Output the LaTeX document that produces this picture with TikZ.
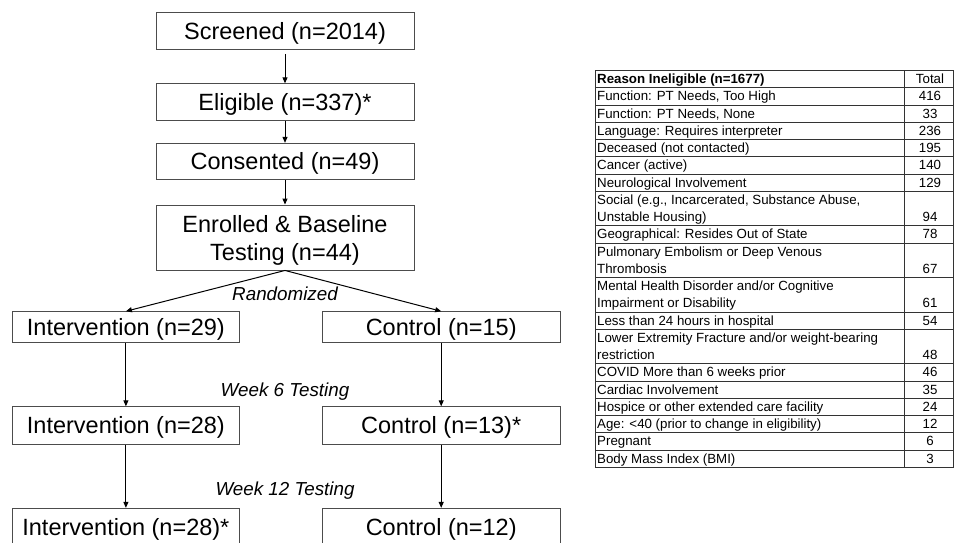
\documentclass[tikz,border=0pt]{standalone}
\usepackage{fontspec}
\setmainfont{Liberation Sans}
\usetikzlibrary{arrows.meta}
\newcommand\boxfont{\fontsize{23.5}{28}\selectfont}
\newcommand\notefont{\fontsize{18.8}{22}\selectfont\itshape}
\newcommand\tabfont{\fontsize{13.3}{15}\selectfont}
\tikzset{
	midbox/.style={draw=black!70, line width=0.9pt, minimum width=258pt, inner sep=0pt, text depth=0pt, font=\boxfont, align=center},
	leftbox/.style={midbox, minimum width=226.3pt},
	rightbox/.style={midbox, minimum width=237.7pt},
	note/.style={font=\notefont, inner sep=0pt},
	arr/.style={-{Triangle[length=6pt, width=5pt]}, line width=1pt, black},
	tabline/.style={draw=black!80, line width=0.8pt},
	tabtxt/.style={anchor=base west, inner sep=0pt, yshift=-4.5pt, font=\tabfont},
	tabnum/.style={anchor=base, inner sep=0pt, yshift=-4.5pt, font=\tabfont}
}

\begin{document}
\begin{tikzpicture}[x=1pt, y=-1pt]
	%%%%% START %%%%%
	\useasboundingbox (0,0) rectangle (954,542);
	\clip (0,0) rectangle (954,542);
	
	\node[midbox, minimum height=37pt] (scr) at (285,30.8) {Screened (n=2014)};
	\node[midbox, minimum height=36.3pt] (elig) at (285,101.9) {Eligible (n=337)*};
	\node[midbox, minimum height=36pt] (cons) at (285,161.3) {Consented (n=49)};
	\node[midbox, minimum height=65pt] (enr) at (285,237.5) {Enrolled \& Baseline\\Testing (n=44)};
	
	\node[leftbox, minimum height=31pt] (int1) at (125.9,327.2) {Intervention (n=29)};
	\node[rightbox, minimum height=31pt] (ctl1) at (441.2,327.2) {Control (n=15)};
	\node[leftbox, minimum height=37.3pt] (int2) at (125.9,425.4) {Intervention (n=28)};
	\node[rightbox, minimum height=37.3pt] (ctl2) at (441.2,425.4) {Control (n=13)*};
	\node[leftbox, minimum height=37pt] (int3) at (125.9,526.8) {Intervention (n=28)*};
	\node[rightbox, minimum height=37pt] (ctl3) at (441.2,526.8) {Control (n=12)};
	
	\node[note] (rnd) at (285,294) {Randomized};
	\node[note] (wk6) at (285,391.7) {Week 6 Testing};
	\node[note] (wk12) at (285,491) {Week 12 Testing};
	
	\draw[arr, shorten <=4pt] (scr) -- (elig);
	\draw[arr] (elig) -- (cons);
	\draw[arr] (cons) -- (enr);
	\draw[arr] (enr.south) -- (int1.north);
	\draw[arr] (enr.south) -- (ctl1.north);
	\draw[arr] (int1) -- (int2);
	\draw[arr] (int2) -- (int3);
	\draw[arr] (ctl1) -- (ctl2);
	\draw[arr] (ctl2) -- (ctl3);
	
	% table of reasons, one unit per text line
	\begin{scope}[shift={(0,70.5)}, y=-17.25pt]
		\draw[tabline] (595,0) rectangle (953,23);
		\draw[tabline] (904,0) -- (904,23);
		\draw[tabline] (595,1) -- (953,1) (595,2) -- (953,2) (595,3) -- (953,3) (595,4) -- (953,4);
		\draw[tabline] (595,5) -- (953,5) (595,6) -- (953,6) (595,7) -- (953,7) (595,9) -- (953,9);
		\draw[tabline] (595,10) -- (953,10) (595,12) -- (953,12) (595,14) -- (953,14) (595,15) -- (953,15);
		\draw[tabline] (595,17) -- (953,17) (595,18) -- (953,18) (595,19) -- (953,19) (595,20) -- (953,20);
		\draw[tabline] (595,21) -- (953,21) (595,22) -- (953,22);
		
		\node[tabtxt] (t0) at (597,0.5) {\bfseries Reason Ineligible (n=1677)};
		\node[tabnum] (v0) at (930,0.5) {Total};
		\node[tabtxt] (t1) at (597,1.5) {Function: PT Needs, Too High};
		\node[tabnum] (v1) at (930,1.5) {416};
		\node[tabtxt] (t2) at (597,2.5) {Function: PT Needs, None};
		\node[tabnum] (v2) at (930,2.5) {33};
		\node[tabtxt] (t3) at (597,3.5) {Language: Requires interpreter};
		\node[tabnum] (v3) at (930,3.5) {236};
		\node[tabtxt] (t4) at (597,4.5) {Deceased (not contacted)};
		\node[tabnum] (v4) at (930,4.5) {195};
		\node[tabtxt] (t5) at (597,5.5) {Cancer (active)};
		\node[tabnum] (v5) at (930,5.5) {140};
		\node[tabtxt] (t6) at (597,6.5) {Neurological Involvement};
		\node[tabnum] (v6) at (930,6.5) {129};
		\node[tabtxt] (t7) at (597,7.5) {Social (e.g., Incarcerated, Substance Abuse,};
		\node[tabtxt] (t7b) at (597,8.5) {Unstable Housing)};
		\node[tabnum] (v7) at (930,8.5) {94};
		\node[tabtxt] (t8) at (597,9.5) {Geographical: Resides Out of State};
		\node[tabnum] (v8) at (930,9.5) {78};
		\node[tabtxt] (t9) at (597,10.5) {Pulmonary Embolism or Deep Venous};
		\node[tabtxt] (t9b) at (597,11.5) {Thrombosis};
		\node[tabnum] (v9) at (930,11.5) {67};
		\node[tabtxt] (t10) at (597,12.5) {Mental Health Disorder and/or Cognitive};
		\node[tabtxt] (t10b) at (597,13.5) {Impairment or Disability};
		\node[tabnum] (v10) at (930,13.5) {61};
		\node[tabtxt] (t11) at (597,14.5) {Less than 24 hours in hospital};
		\node[tabnum] (v11) at (930,14.5) {54};
		\node[tabtxt] (t12) at (597,15.5) {Lower Extremity Fracture and/or weight-bearing};
		\node[tabtxt] (t12b) at (597,16.5) {restriction};
		\node[tabnum] (v12) at (930,16.5) {48};
		\node[tabtxt] (t13) at (597,17.5) {COVID More than 6 weeks prior};
		\node[tabnum] (v13) at (930,17.5) {46};
		\node[tabtxt] (t14) at (597,18.5) {Cardiac Involvement};
		\node[tabnum] (v14) at (930,18.5) {35};
		\node[tabtxt] (t15) at (597,19.5) {Hospice or other extended care facility};
		\node[tabnum] (v15) at (930,19.5) {24};
		\node[tabtxt] (t16) at (597,20.5) {Age: <40 (prior to change in eligibility)};
		\node[tabnum] (v16) at (930,20.5) {12};
		\node[tabtxt] (t17) at (597,21.5) {Pregnant};
		\node[tabnum] (v17) at (930,21.5) {6};
		\node[tabtxt] (t18) at (597,22.5) {Body Mass Index (BMI)};
		\node[tabnum] (v18) at (930,22.5) {3};
	\end{scope}
	%%%%% END %%%%%
\end{tikzpicture}
\end{document}
